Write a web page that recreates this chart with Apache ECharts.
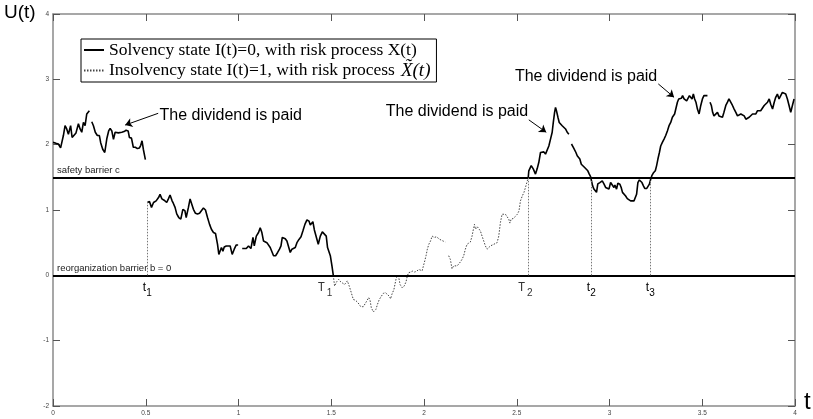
<!DOCTYPE html>
<html><head><meta charset="utf-8">
<script src="https://cdn.jsdelivr.net/npm/echarts@6/dist/echarts.min.js"></script>
<style>html,body{margin:0;padding:0;background:#fff}#c{width:813px;height:419px}</style>
</head><body><div id="c"></div>
<script>
// ---- data (null = gap in the path) ----
const solidT = [
0.000,0.016,0.029,0.041,0.056,0.065,0.074,0.083,0.095,0.103,0.113,0.124,0.137,0.146,0.155,0.164,0.173,0.182,0.196,null,
0.209,0.218,0.228,0.239,0.250,0.257,0.268,0.279,0.290,0.300,0.308,0.317,0.326,0.335,0.344,0.352,0.362,0.371,0.383,0.394,0.405,0.412,0.423,0.433,0.444,0.455,0.466,0.473,0.480,0.487,0.498,null,
0.509,0.520,0.531,0.542,0.556,0.569,0.577,0.587,0.599,0.613,0.622,0.631,0.642,0.649,0.658,0.667,0.678,0.689,0.700,0.711,0.718,0.730,0.739,0.748,0.757,0.768,0.779,0.790,0.800,0.811,0.822,0.833,0.844,0.854,0.865,0.876,0.887,0.894,0.901,0.908,0.916,0.923,0.934,0.944,0.955,0.966,0.977,0.988,0.998,null,
1.020,1.027,1.042,1.054,1.067,1.078,1.085,1.096,1.108,1.117,1.126,1.135,1.144,1.153,1.162,1.171,1.180,1.189,1.200,1.211,1.221,1.229,1.236,1.243,1.252,1.261,1.270,1.279,1.288,1.297,1.306,1.315,1.326,1.337,1.347,1.358,1.369,1.380,1.387,1.394,1.401,1.409,1.419,1.430,1.441,1.452,1.462,1.473,1.480,1.488,1.495,1.504,1.511,null,
2.562,2.565,2.578,2.589,2.601,2.610,2.619,2.628,2.637,2.646,2.655,2.664,2.673,2.682,2.691,2.697,2.704,2.709,2.714,2.722,2.729,2.736,2.745,2.754,2.763,2.772,2.781,null,
2.795,2.805,2.812,2.819,2.826,2.833,2.840,2.848,2.855,2.866,2.876,2.883,2.891,2.898,2.903,2.909,2.916,2.925,2.930,2.937,2.948,2.961,2.970,2.979,2.988,2.997,3.006,3.015,3.024,3.029,3.038,3.045,3.056,3.063,3.070,3.078,3.087,3.096,3.105,3.114,3.123,3.132,3.141,3.146,3.153,3.161,3.168,3.175,3.183,3.190,3.201,3.207,3.215,3.222,3.229,3.236,3.247,3.254,3.261,3.269,3.276,3.285,3.294,3.303,3.312,3.321,3.330,3.339,3.344,3.351,3.358,3.366,3.373,3.380,3.387,3.394,3.402,3.409,3.416,3.423,3.431,3.438,3.445,3.452,3.459,3.466,3.474,3.483,3.492,3.501,3.509,3.519,3.528,null,
3.542,3.549,3.556,3.563,3.573,3.582,3.590,3.599,3.609,3.617,3.627,3.636,3.644,3.654,3.663,3.672,3.681,3.690,3.699,3.708,3.717,3.726,3.735,3.744,3.753,3.761,3.771,3.780,3.789,3.798,3.807,3.815,3.825,3.834,3.842,3.852,3.861,3.869,3.879,3.888,3.896,3.905,3.914,3.923,3.932,3.941,3.950,3.959,3.968,3.977,3.986,3.995
];
const solidU = [
2.035,2.02,2.01,1.95,2.14,2.29,2.24,2.16,2.29,2.11,2.13,2.18,2.32,2.24,2.19,2.34,2.29,2.47,2.52,null,
2.35,2.29,2.19,2.14,2.14,2.03,1.93,1.88,2.09,2.21,2.25,2.21,2.08,2.19,2.20,2.18,2.21,2.19,2.20,2.22,2.21,2.11,2.10,1.96,1.96,1.94,1.95,1.99,2.06,1.93,1.77,null,
1.115,1.13,1.04,1.115,1.14,1.19,1.24,1.17,1.15,1.115,1.17,1.23,1.14,1.10,1.04,0.94,0.885,0.86,1.01,0.99,0.885,1.04,1.17,1.14,1.01,0.95,0.94,0.95,0.94,1.03,1.00,0.885,0.78,0.705,0.655,0.64,0.475,0.32,0.35,0.425,0.37,0.435,0.45,0.45,0.45,0.32,0.40,0.465,0.465,null,
0.41,0.40,0.41,0.45,0.41,0.58,0.45,0.60,0.655,0.73,0.655,0.525,0.525,0.50,0.525,0.425,0.40,0.30,0.30,0.35,0.40,0.45,0.58,0.59,0.56,0.525,0.55,0.35,0.40,0.425,0.425,0.50,0.55,0.59,0.68,0.78,0.85,0.83,0.77,0.755,0.82,0.695,0.665,0.475,0.60,0.665,0.665,0.60,0.425,0.41,0.30,0.14,0.0,null,
1.50,1.60,1.68,1.63,1.55,1.63,1.73,1.88,1.855,1.89,1.855,1.88,1.98,2.085,2.19,2.34,2.495,2.57,2.52,2.42,2.34,2.315,2.29,2.265,2.24,2.19,2.16,null,
2.01,1.96,1.93,1.88,1.83,1.855,1.78,1.70,1.68,1.65,1.63,1.60,1.55,1.51,1.445,1.37,1.32,1.345,1.27,1.40,1.42,1.445,1.40,1.345,1.37,1.32,1.42,1.43,1.345,1.38,1.32,1.41,1.395,1.345,1.27,1.24,1.215,1.175,1.165,1.14,1.14,1.14,1.14,1.24,1.42,1.46,1.47,1.42,1.37,1.33,1.33,1.345,1.395,1.47,1.53,1.565,1.60,1.68,1.78,1.88,1.98,2.035,2.085,2.14,2.21,2.29,2.34,2.42,2.39,2.47,2.495,2.65,2.70,2.725,2.71,2.75,2.70,2.725,2.67,2.70,2.75,2.75,2.70,2.775,2.70,2.65,2.545,2.47,2.60,2.70,2.75,2.775,2.75,null,
2.65,2.60,2.495,2.44,2.47,2.495,2.44,2.47,2.42,2.495,2.60,2.65,2.70,2.67,2.60,2.545,2.495,2.44,2.42,2.47,2.495,2.44,2.39,2.37,2.42,2.44,2.47,2.495,2.47,2.52,2.495,2.52,2.545,2.60,2.57,2.65,2.70,2.62,2.545,2.65,2.725,2.775,2.70,2.75,2.80,2.83,2.775,2.70,2.60,2.495,2.60,2.70
];
const dottedT = [
1.511,1.518,1.529,1.540,1.551,1.561,1.572,1.579,1.587,1.590,1.597,1.608,1.619,1.630,1.641,1.651,1.659,1.666,1.673,1.680,1.691,1.702,1.709,1.716,1.727,1.734,1.741,1.749,1.759,1.770,1.781,1.792,1.802,1.813,1.820,1.827,1.838,1.849,1.856,1.864,1.871,1.882,1.893,1.903,1.910,1.917,1.928,1.939,1.950,1.961,1.972,1.982,1.990,1.997,2.004,2.011,2.018,2.026,2.035,2.044,2.049,2.056,2.067,2.074,2.085,2.092,2.103,2.115,null,
2.133,2.142,2.151,2.160,2.169,2.179,2.187,2.196,2.205,2.214,2.223,2.232,2.241,2.250,2.259,2.268,2.272,2.277,2.287,2.295,2.304,2.313,2.322,2.331,2.340,2.349,2.358,2.367,2.376,2.385,2.394,2.403,2.412,2.421,2.430,2.439,2.448,2.457,2.463,2.470,2.481,2.492,2.503,2.512,2.520,2.530,2.539,2.547,2.557,2.562
];
const dottedU = [
0.0,-0.165,-0.10,-0.06,-0.10,-0.11,-0.14,-0.155,-0.085,-0.06,-0.165,-0.265,-0.37,-0.38,-0.41,-0.445,-0.48,-0.51,-0.48,-0.46,-0.395,-0.34,-0.38,-0.495,-0.56,-0.58,-0.52,-0.445,-0.37,-0.32,-0.275,-0.265,-0.29,-0.32,-0.36,-0.29,-0.215,-0.06,0.0,-0.035,-0.14,-0.19,-0.165,-0.10,-0.01,0.04,0.05,0.065,0.05,0.065,0.09,0.10,0.07,0.145,0.22,0.30,0.40,0.475,0.525,0.60,0.615,0.58,0.59,0.56,0.55,0.54,0.525,0.51,null,
0.30,0.245,0.10,0.145,0.17,0.145,0.17,0.205,0.245,0.30,0.40,0.475,0.50,0.51,0.60,0.73,0.78,0.705,0.745,0.73,0.68,0.60,0.525,0.45,0.40,0.425,0.45,0.46,0.475,0.46,0.50,0.60,0.81,0.935,0.96,0.935,0.91,0.86,0.80,0.86,0.87,0.90,0.935,0.985,1.14,1.215,1.27,1.345,1.445,1.50
];
const barrierLevels = [1.5, 0];
const barrierNames = ['safety barrier c', 'reorganization barrier b = 0'];
const markerTimes = [0.509, 2.562, 2.902, 3.222];
const markerTops = [1.115, 1.5, 1.445, 1.47];
const eventLetters = ['t', 'T', 'T', 't', 't'];
const eventSubs = ['1', '1', '2', '2', '3'];
const eventTimes = [0.486, 1.430, 2.509, 2.880, 3.198];
const noteText = 'The dividend is paid';
const notePos = [[0.577, 2.43], [1.797, 2.50], [2.493, 3.03]];
const arrowTails = [[0.567, 2.48], [2.565, 2.38], [3.263, 2.93]];
const arrowTips = [[0.389, 2.30], [2.659, 2.19], [3.348, 2.725]];
const xTicks = { min: 0, max: 4, interval: 0.5 };
const yTicks = { min: -2, max: 4, interval: 1 };
const S1 = 'Solvency state I(t)=0, with risk process X(t)';
const S2 = 'Insolvency state I(t)=1, with risk process X\u0303(t)';

function pairs(T, U) { return T.map((t, i) => (t === null || U[i] === null) ? ['-', '-'] : [t, U[i]]); }

const axisLineStyle = { color: '#8a8a8a', width: 1.5 };
const tickStyle = { show: true, inside: true, length: 7, lineStyle: { color: '#555', width: 1 } };
const labelFont = { fontSize: 6.5, color: '#444', fontFamily: 'Liberation Sans' };

const markLineData = [];
barrierLevels.forEach((v, i) => markLineData.push({
  yAxis: v, lineStyle: { color: '#000', width: 2, type: 'solid' },
  label: { show: true, position: 'insideStartTop', formatter: barrierNames[i], fontSize: 9.5, color: '#222', fontFamily: 'Liberation Sans', distance: [4, 2] }
}));
markerTimes.forEach((t, i) => markLineData.push([
  { coord: [t, 0], lineStyle: { color: '#777', width: 1, type: [1.5, 1.5] }, label: { show: false } },
  { coord: [t, markerTops[i]] }
]));
arrowTails.forEach((a, i) => markLineData.push([
  { coord: a, symbol: 'none', lineStyle: { color: '#000', width: 1, type: 'solid' }, label: { show: false } },
  { coord: arrowTips[i], symbol: 'arrow', symbolSize: 7 }
]));

const markPointData = [];
notePos.forEach(p => markPointData.push({
  coord: p, label: { show: true, formatter: noteText, position: [0, 0], align: 'left', verticalAlign: 'middle', fontSize: 16, color: '#000', fontFamily: 'Liberation Sans' }
}));
eventTimes.forEach((t, i) => {
  const mono = eventLetters[i] === 'T';
  markPointData.push({
    coord: [t, 0], label: { show: true, formatter: eventLetters[i], position: [0, 6.5], align: 'left', verticalAlign: 'top', fontSize: 12, color: mono ? '#333' : '#000', fontFamily: mono ? 'Liberation Mono' : 'Liberation Sans' }
  });
  markPointData.push({
    coord: [t, 0], label: { show: true, formatter: eventSubs[i], position: [mono ? 9 : 3.5, 13.5], align: 'left', verticalAlign: 'top', fontSize: 10, color: mono ? '#333' : '#000', fontFamily: 'Liberation Sans' }
  });
});

const chart = echarts.init(document.getElementById('c'), null, { renderer: 'canvas' });
chart.setOption({
  animation: false,
  backgroundColor: '#fff',
  grid: { left: 53, right: 18, top: 14, bottom: 13, containLabel: false },
  xAxis: [
    Object.assign({ type: 'value', position: 'bottom', axisLine: { show: true, onZero: false, lineStyle: axisLineStyle }, axisTick: tickStyle, axisLabel: Object.assign({ margin: 4 }, labelFont), splitLine: { show: false } }, xTicks),
    Object.assign({ type: 'value', position: 'top', axisLine: { show: true, onZero: false, lineStyle: axisLineStyle }, axisTick: tickStyle, axisLabel: { show: false }, splitLine: { show: false } }, xTicks)
  ],
  yAxis: [
    Object.assign({ type: 'value', position: 'left', axisLine: { show: true, onZero: false, lineStyle: axisLineStyle }, axisTick: tickStyle, axisLabel: Object.assign({ margin: 4 }, labelFont), splitLine: { show: false } }, yTicks),
    Object.assign({ type: 'value', position: 'right', axisLine: { show: true, onZero: false, lineStyle: axisLineStyle }, axisTick: tickStyle, axisLabel: { show: false }, splitLine: { show: false } }, yTicks)
  ],
  legend: {
    data: [S1, S2], left: 81, top: 39, orient: 'vertical', padding: [2, 4, 2, 2], itemGap: 2,
    itemWidth: 20, itemHeight: 16, borderColor: '#000', borderWidth: 1, borderRadius: 0, backgroundColor: '#fff',
    selectedMode: false,
    itemStyle: { opacity: 0 },
    textStyle: { fontFamily: 'Liberation Serif', fontSize: 17.5, color: '#000',
      rich: { n: { fontFamily: 'Liberation Serif', fontSize: 17.5, lineHeight: 19, color: '#000' }, i: { fontFamily: 'Liberation Serif', fontStyle: 'italic', fontSize: 19, lineHeight: 19, color: '#000', padding: [0, 2, 0, 6] } } },
    formatter: name => name === S2 ? '{n|Insolvency state I(t)=1, with risk process}{i|X\u0303(t)}' : '{n|' + name + '}'
  },
  graphic: [
    { type: 'text', left: 4, top: 3, style: { text: 'U(t)', fontSize: 19, fontFamily: 'Liberation Sans', fill: '#000' } },
    { type: 'text', left: 804, top: 390, style: { text: 't', fontSize: 24, fontFamily: 'Liberation Sans', fill: '#000' } }
  ],
  series: [
    {
      name: S1, type: 'line', data: pairs(solidT, solidU), xAxisIndex: 0, yAxisIndex: 0,
      symbol: 'none', showSymbol: false, connectNulls: false, z: 3,
      lineStyle: { color: '#000', width: 1.6 }, itemStyle: { color: '#000' },
      markLine: { silent: true, symbol: ['none', 'none'], data: markLineData },
      markPoint: { silent: true, symbol: 'circle', symbolSize: 1, itemStyle: { color: 'rgba(0,0,0,0)' }, data: markPointData }
    },
    {
      name: S2, type: 'line', data: pairs(dottedT, dottedU), xAxisIndex: 0, yAxisIndex: 0,
      symbol: 'none', showSymbol: false, connectNulls: false, z: 2,
      lineStyle: { color: '#444', width: 1, type: [1.5, 1.5] }, itemStyle: { color: '#444' }
    }
  ]
});
</script></body></html>
